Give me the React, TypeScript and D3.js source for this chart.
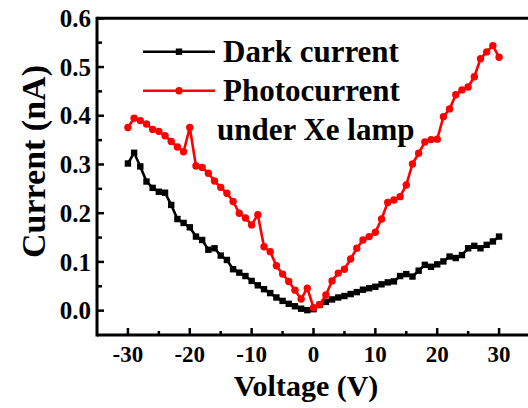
import React from "react";
import * as d3 from "d3";

const voltage = [
  -30, -29, -28, -27, -26, -25, -24, -23, -22, -21, -20, -19, -18, -17, -16, -15,
  -14, -13, -12, -11, -10, -9, -8, -7, -6, -5, -4, -3, -2, -1, 0, 1, 2, 3, 4, 5,
  6, 7, 8, 9, 10, 11, 12, 13, 14, 15, 16, 17, 18, 19, 20, 21, 22, 23, 24, 25, 26,
  27, 28, 29, 30,
];

const darkCurrent = [
  0.302, 0.324, 0.296, 0.265, 0.252, 0.244, 0.242, 0.217, 0.188, 0.18, 0.171,
  0.152, 0.145, 0.125, 0.128, 0.113, 0.104, 0.085, 0.078, 0.071, 0.061, 0.052,
  0.044, 0.036, 0.027, 0.02, 0.014, 0.009, 0.004, 0.001, 0.003,
  0.012, 0.018, 0.023, 0.027, 0.03, 0.034, 0.038, 0.043, 0.046, 0.049, 0.054,
  0.058, 0.06, 0.071, 0.075, 0.07, 0.082, 0.094, 0.09, 0.095, 0.101, 0.111,
  0.108, 0.114, 0.128, 0.133, 0.128, 0.135, 0.142, 0.152,
];

const photoCurrent = [
  0.376, 0.395, 0.39, 0.383, 0.372, 0.368, 0.359, 0.347, 0.336, 0.326, 0.376,
  0.297, 0.294, 0.282, 0.266, 0.253, 0.241, 0.224, 0.2, 0.19, 0.176, 0.197,
  0.131, 0.121, 0.092, 0.075, 0.06, 0.042, 0.024, 0.046, 0.006,
  0.012, 0.032, 0.061, 0.077, 0.085, 0.106, 0.128, 0.145, 0.152, 0.161, 0.188,
  0.222, 0.227, 0.234, 0.258, 0.301, 0.323, 0.346, 0.351, 0.352, 0.398, 0.414,
  0.443, 0.453, 0.459, 0.48, 0.517, 0.531, 0.544, 0.52,
];

const xTicks = [-30, -20, -10, 0, 10, 20, 30];
const xMinorTicks = [-25, -15, -5, 5, 15, 25];
const yTicks = [0.0, 0.1, 0.2, 0.3, 0.4, 0.5, 0.6];
const yMinorTicks = [0.05, 0.15, 0.25, 0.35, 0.45, 0.55];

const legendLabels = ["Dark current", "Photocurrent", "under Xe lamp"];

const FONT = "'Liberation Serif', 'Times New Roman', serif";

export default function App() {
  const W = 528;
  const H = 408;
  const left = 97;
  const right = 530;
  const top = 18.3;
  const bottom = 335;

  const x = d3.scaleLinear().domain([-35, 35]).range([left, right]);
  const y = d3.scaleLinear().domain([-0.05, 0.6]).range([bottom, top]);

  const line = d3
    .line<number>()
    .x((_, i) => x(voltage[i]))
    .y((d) => y(d));

  const darkPath = line(darkCurrent) || "";
  const photoPath = line(photoCurrent) || "";

  const lx0 = 143;
  const lx1 = 215;
  const lxm = (lx0 + lx1) / 2;
  const ly1 = 51.7;
  const ly2 = 90.7;

  return (
    <svg
      width={W}
      height={H}
      style={{ position: "absolute", left: 0, top: 0, background: "#fff" }}
      fontFamily={FONT}
      fontWeight="bold"
    >
      <rect x={0} y={0} width={W} height={H} fill="#fff" />

      {/* data */}
      <path d={darkPath} fill="none" stroke="#000" strokeWidth={2.6} strokeLinejoin="round" />
      {darkCurrent.map((d, i) => (
        <rect key={"d" + i} x={x(voltage[i]) - 3.2} y={y(d) - 3.2} width={6.4} height={6.4} fill="#000" />
      ))}
      <path d={photoPath} fill="none" stroke="#ff0000" strokeWidth={2.6} strokeLinejoin="round" />
      {photoCurrent.map((d, i) => (
        <circle key={"p" + i} cx={x(voltage[i])} cy={y(d)} r={3.7} fill="#ff0000" />
      ))}

      {/* frame */}
      <line x1={left} x2={right} y1={top} y2={top} stroke="#000" strokeWidth={3} />
      <line x1={left} x2={right} y1={bottom} y2={bottom} stroke="#000" strokeWidth={3} />
      <line x1={left} x2={left} y1={top - 1.5} y2={bottom + 1.5} stroke="#000" strokeWidth={3} />
      <line x1={right} x2={right} y1={top} y2={bottom} stroke="#000" strokeWidth={3} />

      {/* x ticks */}
      {xTicks.map((t) => (
        <g key={"xt" + t}>
          <line x1={x(t)} x2={x(t)} y1={bottom} y2={bottom - 7} stroke="#000" strokeWidth={2.5} />
          <text x={x(t)} y={361.5} textAnchor="middle" fontSize={23}>
            {t}
          </text>
        </g>
      ))}
      {xMinorTicks.map((t) => (
        <line key={"xm" + t} x1={x(t)} x2={x(t)} y1={bottom} y2={bottom - 4} stroke="#000" strokeWidth={2.5} />
      ))}

      {/* y ticks */}
      {yTicks.map((t) => (
        <g key={"yt" + t}>
          <line x1={left} x2={left + 7} y1={y(t)} y2={y(t)} stroke="#000" strokeWidth={2.5} />
          <text x={91} y={y(t)} dy="0.35em" textAnchor="end" fontSize={25}>
            {t.toFixed(1)}
          </text>
        </g>
      ))}
      {yMinorTicks.map((t) => (
        <line key={"ym" + t} x1={left} x2={left + 5} y1={y(t)} y2={y(t)} stroke="#000" strokeWidth={2.5} />
      ))}

      {/* axis titles */}
      <text x={306} y={396} textAnchor="middle" fontSize={30}>
        Voltage (V)
      </text>
      <text transform="translate(45,161.5) rotate(-90)" textAnchor="middle" fontSize={34}>
        Current (nA)
      </text>

      {/* legend */}
      <line x1={lx0} x2={lx1} y1={ly1} y2={ly1} stroke="#000" strokeWidth={2.6} />
      <rect x={lxm - 3.2} y={ly1 - 3.2} width={6.4} height={6.4} fill="#000" />
      <text x={223} y={62.3} fontSize={31}>
        {legendLabels[0]}
      </text>
      <line x1={lx0} x2={lx1} y1={ly2} y2={ly2} stroke="#ff0000" strokeWidth={2.6} />
      <circle cx={lxm} cy={ly2} r={3.7} fill="#ff0000" />
      <text x={223} y={101} fontSize={31}>
        {legendLabels[1]}
      </text>
      <text x={217} y={140} fontSize={31}>
        {legendLabels[2]}
      </text>
    </svg>
  );
}
